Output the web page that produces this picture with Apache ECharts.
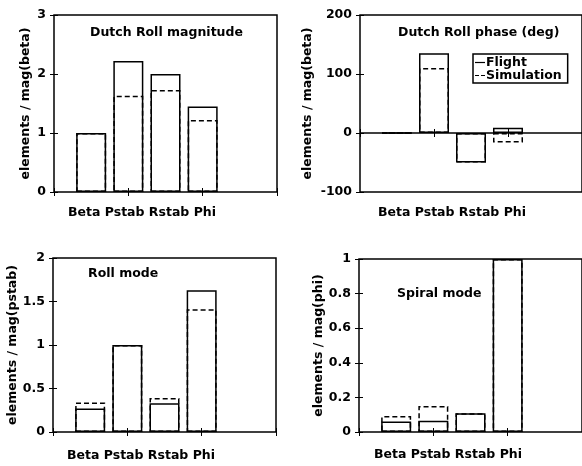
<!DOCTYPE html>
<html><head><meta charset="utf-8">
<script src="https://cdn.jsdelivr.net/npm/echarts@6/dist/echarts.min.js"></script>
<style>html,body{margin:0;padding:0;background:#fff}#c{width:582px;height:466px}</style>
</head><body><div id="c"></div>
<script>
const categories = ['Beta', 'Pstab', 'Rstab', 'Phi'];
const seriesNames = ['Flight', 'Simulation'];
const panelTitles = ['Dutch Roll magnitude', 'Dutch Roll phase (deg)', 'Roll mode', 'Spiral mode'];
const yNames = ['elements / mag(beta)', 'elements / mag(beta)', 'elements / mag(pstab)', 'elements / mag(phi)'];
const drMagFlight = [1, 2.22, 2.0, 1.45];
const drMagSim = [1, 1.63, 1.73, 1.22];
const drPhaseFlight = [0, 135, -50, 9];
const drPhaseSim = [0, 110, -50, -16];
const rollFlight = [0.27, 1, 0.33, 1.63];
const rollSim = [0.34, 1, 0.39, 1.41];
const spiralFlight = [0.06, 0.065, 0.108, 1];
const spiralSim = [0.092, 0.15, 0.108, 1];
const yMin = [0, -100, 0, 0];
const yMax = [3, 200, 2, 1];
const yInterval = [1, 100, 0.5, 0.2];

const FONT = "'DejaVu Sans', 'Liberation Sans', Arial, sans-serif";
const grids = [
  {left: 54, top: 15, width: 223, height: 177},
  {left: 360, top: 15, width: 223, height: 177},
  {left: 53, top: 258, width: 223, height: 174},
  {left: 359, top: 259, width: 223, height: 173}
];
const nameGaps = [22, 46, 29, 23];
const titlePos = [[90, 26], [398, 26], [88, 267], [397, 287]];
const xlabPos = [[68, 206], [378, 206], [67, 449], [374, 448]];
const flightData = [drMagFlight, drPhaseFlight, rollFlight, spiralFlight];
const simData = [drMagSim, drPhaseSim, rollSim, spiralSim];

const toXY = arr => arr.map((v, i) => [i + 1, v]);
const txt = {fontFamily: FONT, fontWeight: 'bold', fontSize: 12.5, color: '#000'};

const option = {
  animation: false,
  backgroundColor: '#fff',
  grid: grids.map(g => Object.assign({show: true, borderColor: '#000', borderWidth: 1.5, backgroundColor: 'transparent'}, g)),
  title: [].concat(
    panelTitles.map((t, i) => ({text: t, left: titlePos[i][0], top: titlePos[i][1], padding: 0, textStyle: txt})),
    panelTitles.map((t, i) => ({text: categories.join(' '), left: xlabPos[i][0], top: xlabPos[i][1], padding: 0, textStyle: txt}))
  ),
  xAxis: [],
  yAxis: [],
  series: [],
  legend: {
    orient: 'vertical', left: 473, top: 54, padding: [2, 6, 1, 2], itemGap: 0,
    itemWidth: 10, itemHeight: 8, borderColor: '#000', borderWidth: 1.5, borderRadius: 0,
    backgroundColor: '#fff',
    textStyle: Object.assign({}, txt, {lineHeight: 11, padding: [0, 0, 0, -4]}),
    selectedMode: false,
    data: [
      {name: seriesNames[0], icon: 'path://M0,0h10v1.2h-10z', itemStyle: {color: '#000', borderWidth: 0}},
      {name: seriesNames[1], icon: 'path://M0,0h4v1.2h-4zM6,0h4v1.2h-4z', itemStyle: {color: '#000', borderWidth: 0}}
    ]
  }
};

for (let i = 0; i < 4; i++) {
  const xBase = {gridIndex: i, type: 'value', min: 0, max: 6, interval: 2,
    axisLine: {show: false}, axisLabel: {show: false}, splitLine: {show: false},
    axisTick: {show: true, inside: true, length: 4, lineStyle: {color: '#000', width: 1}}};
  option.xAxis.push(Object.assign({position: 'bottom'}, xBase));
  option.xAxis.push(Object.assign({position: 'top'}, xBase));
  const yBase = {gridIndex: i, type: 'value', min: yMin[i], max: yMax[i], interval: yInterval[i],
    axisLine: {show: false}, splitLine: {show: false},
    axisTick: {show: true, inside: true, length: 4, lineStyle: {color: '#000', width: 1}}};
  option.yAxis.push(Object.assign({position: 'left', name: yNames[i], nameLocation: 'middle', nameRotate: 90,
    nameGap: nameGaps[i], nameTextStyle: txt,
    axisLabel: Object.assign({margin: 8}, txt)}, yBase));
  option.yAxis.push(Object.assign({position: 'right', axisLabel: {show: false}}, yBase));
  const common = {type: 'bar', xAxisIndex: 2 * i, yAxisIndex: 2 * i, barWidth: 30, barGap: '-100%'};
  const fs = Object.assign({name: seriesNames[0], data: toXY(flightData[i]),
    itemStyle: {color: 'transparent', borderColor: '#000', borderWidth: 1.5}}, common);
  if (i === 1) {
    fs.markLine = {silent: true, symbol: 'none', label: {show: false},
      lineStyle: {color: '#000', width: 1.5, type: 'solid'}, data: [{yAxis: 0}]};
  }
  option.series.push(fs);
  option.series.push(Object.assign({name: seriesNames[1], data: toXY(simData[i]),
    itemStyle: {color: 'transparent', borderColor: '#000', borderWidth: 1.5, borderType: [5, 3]}}, common));
}

const chart = echarts.init(document.getElementById('c'), null, {renderer: 'canvas'});
chart.setOption(option);
</script></body></html>
